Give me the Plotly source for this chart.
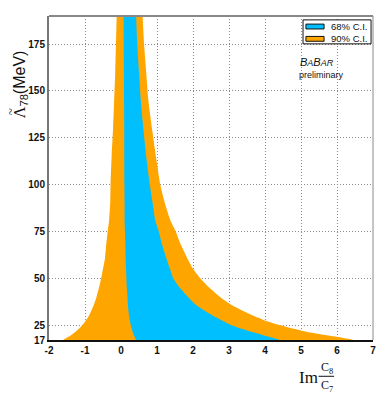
import plotly.graph_objects as go

# ----------------- data -----------------
LAMBDA = [190, 175, 160, 145, 130, 115, 100, 90, 81, 75, 68, 60, 55, 50, 45, 40,
          36, 32, 29, 27, 25, 23, 21, 19, 17]
CI90_LEFT = [-0.12, -0.14, -0.16, -0.19, -0.22, -0.26, -0.29, -0.30, -0.33, -0.37, -0.41, -0.45,
             -0.50, -0.55, -0.61, -0.68, -0.75, -0.84, -0.92, -0.99, -1.07, -1.17, -1.29, -1.43, -1.60]
CI90_RIGHT = [0.60, 0.64, 0.70, 0.76, 0.86, 0.97, 1.09, 1.22, 1.37, 1.52, 1.66, 1.86,
              2.00, 2.20, 2.45, 2.75, 3.05, 3.45, 3.80, 4.05, 4.40, 4.80, 5.25, 5.90, 6.45]
CI68_LEFT = [0.07, 0.075, 0.08, 0.085, 0.09, 0.09, 0.095, 0.10, 0.10, 0.11, 0.12, 0.13,
             0.14, 0.15, 0.16, 0.18, 0.19, 0.21, 0.23, 0.25, 0.27, 0.30, 0.33, 0.37, 0.43]
CI68_RIGHT = [0.42, 0.45, 0.50, 0.55, 0.62, 0.70, 0.80, 0.88, 0.95, 1.05, 1.14, 1.27,
              1.36, 1.45, 1.63, 1.86, 2.07, 2.38, 2.65, 2.85, 3.05, 3.35, 3.70, 4.05, 4.40]

X_TICKS = [-2, -1, 0, 1, 2, 3, 4, 5, 6, 7]
Y_TICKS = [17, 25, 50, 75, 100, 125, 150, 175]

ORANGE = "#FFA500"
BLUE = "#00BFFF"
GRID = "#8C8C8C"
SANS = "Liberation Sans"
SERIF = "Liberation Serif"
TICK_FONT = dict(family=SANS, size=10, color="#111")


def band(left, right, ys):
    xs = list(left) + list(reversed(right))
    yy = list(ys) + list(reversed(ys))
    return xs, yy


def note(fig, text, x, y, size, family=SANS, angle=0):
    fig.add_annotation(text=text, xref="paper", yref="paper", x=x, y=y, xanchor="center",
                       yanchor="middle", showarrow=False, textangle=angle,
                       font=dict(family=family, size=size, color="#111"))


fig = go.Figure()
for left, right, color, name in [(CI90_LEFT, CI90_RIGHT, ORANGE, "90% C.I."),
                                 (CI68_LEFT, CI68_RIGHT, BLUE, "68% C.I.")]:
    bx, by = band(left, right, LAMBDA)
    fig.add_trace(go.Scatter(x=bx, y=by, mode="lines", fill="toself", fillcolor=color,
                             line=dict(width=0, color=color, shape="spline", smoothing=0.6),
                             name=name, showlegend=False, hoverinfo="skip"))

axis_common = dict(tickfont=TICK_FONT, showgrid=True, gridcolor=GRID, griddash="1px,2px",
                   gridwidth=1, zeroline=False, showline=True, ticks="", layer="below traces")
fig.update_layout(
    width=387, height=395,
    margin=dict(l=49, r=14, t=16, b=55),
    paper_bgcolor="white", plot_bgcolor="white",
    showlegend=False,
    xaxis=dict(range=[-2, 7], tickvals=X_TICKS, ticktext=[f"<b>{v}</b>" for v in X_TICKS],
               linecolor="#111", linewidth=2, **axis_common),
    yaxis=dict(range=[17, 190], tickvals=Y_TICKS, ticktext=[f"<b>{v}</b>" for v in Y_TICKS],
               linecolor="#777", linewidth=2, **axis_common),
)

# top / right frame
fig.add_shape(type="line", xref="paper", yref="paper", x0=0, x1=1, y0=1, y1=1,
              line=dict(color="#888", width=2))
fig.add_shape(type="line", xref="paper", yref="paper", x0=1, x1=1, y0=0, y1=1,
              line=dict(color="#888", width=1))

# legend box
fig.add_shape(type="rect", xref="paper", yref="paper", x0=0.784, x1=0.994, y0=0.914, y1=0.988,
              line=dict(color="#111", width=1), fillcolor="white")
for y0, y1, color, label, ty in [(0.960, 0.975, BLUE, "68% C.I.", 0.968),
                                 (0.922, 0.937, ORANGE, "90% C.I.", 0.930)]:
    fig.add_shape(type="rect", xref="paper", yref="paper", x0=0.793, x1=0.849, y0=y0, y1=y1,
                  line=dict(color="#111", width=1), fillcolor=color)
    fig.add_annotation(text=label, xref="paper", yref="paper", x=0.864, y=ty, xanchor="left",
                       yanchor="middle", showarrow=False,
                       font=dict(family=SANS, size=9.5, color="#111"))

# BaBar preliminary
note(fig, "<i>B<span style='font-size:9px'>A</span>B<span style='font-size:9px'>AR</span></i>",
     0.826, 0.858, 11)
note(fig, "preliminary", 0.840, 0.818, 9)

# y title: Λ~_78 (MeV)
note(fig, f"<span style='font-family:{SERIF}'>Λ</span><sub>78</sub>(MeV)", -0.089, 0.79, 16,
     angle=-90)
note(fig, "~", -0.118, 0.705, 13, family=SERIF, angle=-90)

# x title: Im C8/C7
note(fig, "Im", 0.802, -0.117, 17, family=SERIF)
note(fig, "C<sub>8</sub>", 0.857, -0.086, 12, family=SERIF)
note(fig, "C<sub>7</sub>", 0.857, -0.142, 12, family=SERIF)
fig.add_shape(type="line", xref="paper", yref="paper", x0=0.832, x1=0.880, y0=-0.112, y1=-0.112,
              line=dict(color="#111", width=1))

fig.write_html("out.html", config={"displayModeBar": False},
               post_script="document.body.style.margin='0';")
